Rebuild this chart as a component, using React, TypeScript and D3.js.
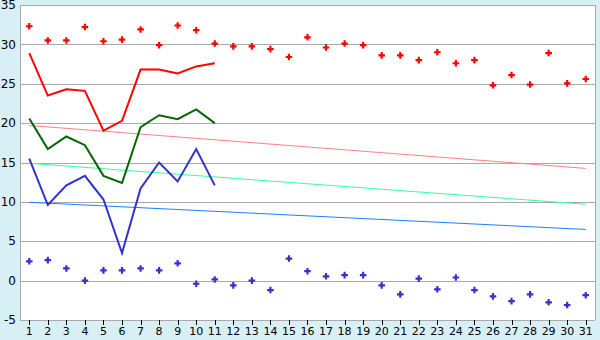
import React, { useEffect } from "react";
import * as d3 from "d3";

const days = d3.range(1, 32).map(String);
const maxPoints = [32.3, 30.5, 30.5, 32.2, 30.4, 30.6, 31.9, 29.9, 32.4, 31.8, 30.1, 29.75, 29.75, 29.4, 28.4, 30.9, 29.6, 30.1, 29.9, 28.6, 28.6, 28.0, 29.0, 27.6, 28.0, 24.8, 26.1, 24.9, 28.9, 25.05, 25.6];
const minPoints = [2.45, 2.6, 1.55, 0.0, 1.3, 1.3, 1.55, 1.3, 2.2, -0.4, 0.15, -0.6, 0.0, -1.2, 2.8, 1.2, 0.55, 0.7, 0.7, -0.6, -1.75, 0.25, -1.1, 0.4, -1.2, -2.0, -2.6, -1.75, -2.75, -3.1, -1.85];
const maxLine = [28.9, 23.5, 24.3, 24.1, 19.05, 20.3, 26.8, 26.8, 26.3, 27.2, 27.6];
const meanLine = [20.6, 16.7, 18.3, 17.2, 13.3, 12.4, 19.5, 21.0, 20.5, 21.75, 20.0];
const minLine = [15.5, 9.6, 12.1, 13.3, 10.3, 3.5, 11.7, 15.0, 12.6, 16.7, 12.1];
const maxTrend = [19.7, 14.25];
const meanTrend = [14.9, 9.7];
const minTrend = [9.95, 6.5];
const yTicks = [-5, 0, 5, 10, 15, 20, 25, 30, 35];

const W = 600, H = 340;
const L = 20, R = 595, T = 5, B = 320;

export default function App() {
  useEffect(() => {
    document.body.style.margin = "0";
  }, []);
  const x = d3.scaleBand<string>().domain(days).range([L, R]);
  const cx = (d: string) => (x(d) as number) + x.bandwidth() / 2;
  const y = d3.scaleLinear().domain([-5, 35]).range([B, T]);
  const line = d3.line<number>().x((_, i) => cx(days[i])).y((v) => y(v));
  const cross = d3.symbol().type(d3.symbolCross).size(24)() as string;
  const trend = (vals: number[]) =>
    d3.line<number>().x((_, i) => (i === 0 ? cx(days[0]) : cx(days[days.length - 1]))).y((v) => y(v))(vals) as string;
  const font = "DejaVu Sans, Verdana, sans-serif";
  return (
    <svg width={W} height={H} style={{ display: "block" }} fontFamily={font}>
      <rect x={0} y={0} width={W} height={H} fill="#d9eff6" />
      <rect x={L} y={T} width={R - L} height={B - T} fill="#ffffff" />
      {yTicks.map((t) => (
        <g key={t}>
          <line x1={L} x2={R} y1={Math.round(y(t)) + 0.5} y2={Math.round(y(t)) + 0.5} stroke="#aaaaaa" strokeWidth={1} />
          <text x={16} y={y(t)} dy="0.35em" textAnchor="end" fontSize={12} fill="#000">{t}</text>
        </g>
      ))}
      <line x1={L + 0.5} x2={L + 0.5} y1={T} y2={B} stroke="#aaaaaa" />
      <line x1={R + 0.5} x2={R + 0.5} y1={T} y2={B} stroke="#aaaaaa" />
      {days.map((d) => (
        <g key={d}>
          <line x1={Math.round(cx(d)) + 0.5} x2={Math.round(cx(d)) + 0.5} y1={B} y2={B + 5} stroke="#000" />
          <text x={cx(d)} y={331} dy="0.35em" textAnchor="middle" fontSize={11} fill="#000">{d}</text>
        </g>
      ))}
      <path d={trend(maxTrend)} fill="none" stroke="#ff8080" strokeWidth={1} />
      <path d={trend(meanTrend)} fill="none" stroke="#33ff99" strokeWidth={1} />
      <path d={trend(minTrend)} fill="none" stroke="#1a80ff" strokeWidth={1} />
      <path d={line(maxLine) as string} fill="none" stroke="#ff0000" strokeWidth={2} />
      <path d={line(meanLine) as string} fill="none" stroke="#006600" strokeWidth={2} />
      <path d={line(minLine) as string} fill="none" stroke="#3333cc" strokeWidth={2} />
      {maxPoints.map((v, i) => (
        <path key={"mx" + i} d={cross} transform={`translate(${cx(days[i])},${y(v)})`} fill="#ff0000" />
      ))}
      {minPoints.map((v, i) => (
        <path key={"mn" + i} d={cross} transform={`translate(${cx(days[i])},${y(v)})`} fill="#3333cc" />
      ))}
    </svg>
  );
}
